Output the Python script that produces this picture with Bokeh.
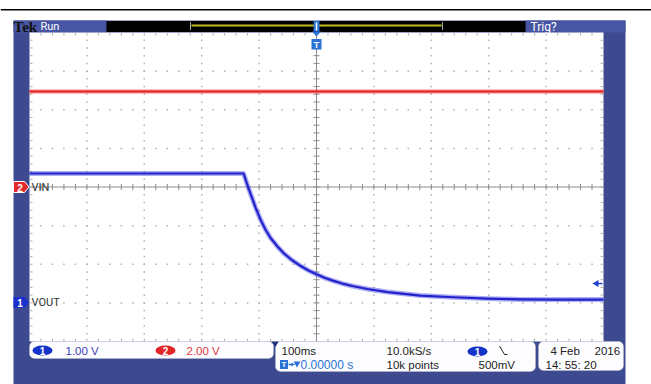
from bokeh.plotting import figure
from bokeh.models import Range1d, BoxAnnotation
from bokeh.embed import file_html
from bokeh.resources import INLINE
from bokeh.core.properties import value

# ---------------- data ----------------
TIMEBASE_MS = 100.0      # ms / div
CH1_SCALE = 1.0          # V / div  (VOUT, blue)
CH2_SCALE = 2.0          # V / div  (VIN, red)
CH1_POS = -3.0           # ground marker position, div
CH2_POS = 0.0
TRIG_LEVEL_V = 0.5       # trigger level on ch1

vout_t = [-500, -127, -121, -115, -106, -97.6, -89, -80, -68, -57.5, -43, -28, -14, 0, 14, 29.6, 45,
          64.5, 89, 124, 181, 239, 298, 355, 413, 500]
vout_v = [3.35, 3.35, 3.08, 2.83, 2.46, 2.16, 1.90, 1.68, 1.46, 1.29, 1.11, 0.96, 0.84, 0.74, 0.65,
          0.57, 0.50, 0.43, 0.36, 0.28, 0.19, 0.145, 0.11, 0.09, 0.085, 0.085]
vin_t = [-500, 500]
vin_v = [4.94, 4.94]

ch_labels = ["1.00 V", "2.00 V"]
info_rows = ["100ms", "0.00000 s", "10.0kS/s", "10k points", "500mV"]
date_rows = ["4 Feb", "2016", "14: 55: 20"]

# ---------------- layout helpers (picture pixel -> division) ----------------
W, H = 651, 384
SX, SY = 57.4, 38.625
CX, CY = 316.0, 186.5
def X(px): return (px - CX) / SX
def Y(py): return (CY - py) / SY

FONT = value("Liberation Sans")
NARROW = value("Roboto")

p = figure(width=W, height=H, x_range=Range1d(X(0), X(W)), y_range=Range1d(Y(H), Y(0)),
           output_backend="svg", toolbar_location=None, min_border=0,
           x_axis_location=None, y_axis_location=None)
p.outline_line_color = None
p.background_fill_color = "white"
p.border_fill_color = "white"
p.xgrid.visible = False
p.ygrid.visible = False

# top black rule
p.segment(x0=[X(0)], y0=[Y(9.3)], x1=[X(W)], y1=[Y(9.3)], line_color="black", line_width=1.5)

# instrument panel
p.quad(left=[X(13)], right=[X(625)], top=[Y(20)], bottom=[Y(H + 5)], fill_color="#3d4a90", line_color=None)
p.quad(left=[X(13), X(525)], right=[X(106), X(625)], top=[Y(20)] * 2, bottom=[Y(32)] * 2,
       fill_color="#4755a2", line_color=None)
p.quad(left=[X(106)], right=[X(525)], top=[Y(20.5)], bottom=[Y(31.5)], fill_color="black", line_color=None)
p.segment(x0=[X(191)], y0=[Y(25)], x1=[X(441)], y1=[Y(25)], line_color="#c4bc22", line_width=2)
p.segment(x0=[X(190), X(442)], y0=[Y(21.5)] * 2, x1=[X(190), X(442)], y1=[Y(29.5)] * 2,
          line_color="#a8a8a8", line_width=1)

# screen
p.quad(left=[-5], right=[5], top=[4], bottom=[-4], fill_color="white", line_color=None)

# graticule dots
dx, dy = [], []
for gy in [-3, -2, -1, 1, 2, 3]:
    for k in range(-24, 25):
        dx.append(k / 5); dy.append(gy)
for gx in [-4, -3, -2, -1, 1, 2, 3, 4]:
    for k in range(-19, 20):
        dx.append(gx); dy.append(k / 5)
p.scatter(dx, dy, marker="square", size=1.5, fill_color="#b0b0b0", line_color=None)

# edge and centre ticks
tx0, ty0, tx1, ty1 = [], [], [], []
for k in range(-24, 25):
    x = k / 5
    tx0 += [x, x]; tx1 += [x, x]
    ty0 += [4, -4]; ty1 += [4 - 3 / SY, -4 + 3 / SY]
for k in range(-19, 20):
    y = k / 5
    ty0 += [y, y]; ty1 += [y, y]
    tx0 += [-5, 5]; tx1 += [-5 + 3 / SX, 5 - 3 / SX]
p.segment(tx0, ty0, tx1, ty1, line_color="#b0b0b0", line_width=1)
cx0, cy0, cx1, cy1 = [], [], [], []
for k in range(-24, 25):
    cx0.append(k / 5); cx1.append(k / 5); cy0.append(-3 / SY); cy1.append(3 / SY)
for k in range(-19, 20):
    cy0.append(k / 5); cy1.append(k / 5); cx0.append(-3 / SX); cx1.append(3 / SX)
p.segment(cx0, cy0, cx1, cy1, line_color="#8c8c8c", line_width=1)
p.segment(x0=[-5, 0], y0=[0, -4], x1=[5, 0], y1=[0, 4], line_color="#8c8c8c", line_width=1)

# traces
vin_x = [t / TIMEBASE_MS for t in vin_t]
vin_y = [v / CH2_SCALE + CH2_POS for v in vin_v]
vout_x = [t / TIMEBASE_MS for t in vout_t]
vout_y = [v / CH1_SCALE + CH1_POS for v in vout_v]
p.line(vin_x, vin_y, line_color="#f03a3a", line_width=4.5, line_alpha=0.45)
p.line(vin_x, vin_y, line_color="#e41e1e", line_width=2)
p.line(vout_x, vout_y, line_color="#4a4ae2", line_width=5, line_alpha=0.45, line_join="round")
p.line(vout_x, vout_y, line_color="#2222cc", line_width=2.2, line_join="round")

# trigger level arrow (right edge)
ty = TRIG_LEVEL_V / CH1_SCALE + CH1_POS
p.scatter([X(596)], [ty], marker="triangle", angle=1.5708, size=7, fill_color="#2040d0", line_color=None)
p.segment(x0=[X(597)], y0=[ty], x1=[X(602)], y1=[ty], line_color="#2040d0", line_width=1.5)

# trigger position marker (top)
TB = "#2a72d8"
p.quad(left=[X(313)], right=[X(319)], top=[Y(20.5)], bottom=[Y(31)], fill_color=TB, line_color=None)
p.segment(x0=[X(316)], y0=[Y(22)], x1=[X(316)], y1=[Y(30)], line_color="white", line_width=1.5)
p.patch([X(311.5), X(320.5), X(316)], [Y(31), Y(31), Y(36)], fill_color=TB, line_color=None)
p.quad(left=[X(311)], right=[X(321)], top=[Y(38.5)], bottom=[Y(49)], fill_color=TB, line_color=None)
p.text([X(316)], [Y(44)], text=["T"], text_color="white", text_font=FONT, text_font_style="bold",
       text_font_size="9px", text_align="center", text_baseline="middle")

# header texts
p.text([X(13)], [Y(26.5)], text=["Tek"], text_color="#111111", text_font=value("Liberation Serif"),
       text_font_style="bold", text_font_size="15px", text_baseline="middle")
p.text([X(40)], [Y(26)], text=["Run"], text_color="white", text_font=NARROW,
       text_font_size="11px", text_baseline="middle")
p.text([X(530)], [Y(26)], text=["Trig?"], text_color="white", text_font=NARROW,
       text_font_size="12px", text_baseline="middle")

# channel ground markers
p.patch([X(13), X(24), X(28.5), X(24), X(13)], [Y(181), Y(181), Y(186.5), Y(192), Y(192)],
        fill_color="#e22a2a", line_color="white", line_width=1)
p.text([X(19.5)], [Y(187)], text=["2"], text_color="white", text_font=FONT, text_font_style="bold",
       text_font_size="10px", text_align="center", text_baseline="middle")
p.patch([X(13), X(24), X(28.5), X(24), X(13)], [Y(296.5), Y(296.5), Y(302), Y(307.5), Y(307.5)],
        fill_color="#1a2fd0", line_color=None)
p.text([X(19.5)], [Y(302.5)], text=["1"], text_color="white", text_font=FONT, text_font_style="bold",
       text_font_size="10px", text_align="center", text_baseline="middle")
p.text([X(31), X(31)], [Y(186.5), Y(302)], text=["VIN", "VOUT"], text_color="#333333", text_font=NARROW,
       text_font_size="11px", text_baseline="middle")

# info boxes
for l, r, t, b in [(29, 273, 341, 358), (275, 535, 341, 371), (538, 623, 341, 370)]:
    p.add_layout(BoxAnnotation(left=X(l), right=X(r), top=Y(t), bottom=Y(b), fill_color="#fdfdff",
                               fill_alpha=1, line_color="#c8c8d0", line_width=1, border_radius=5))
p.scatter([X(275), X(537)], [Y(343)], marker="inverted_triangle", size=6, fill_color="#22307a",
          line_color=None, level="overlay")

p.ellipse([X(42), X(165), X(477)], [Y(350), Y(350), Y(351)], width=20, height=10,
          width_units="screen", height_units="screen",
          fill_color=["#1433c8", "#e22626", "#1433c8"], line_color=None, level="overlay")
p.text([X(42), X(165), X(477)], [Y(350.5), Y(350.5), Y(351.5)], text=["1", "2", "1"], text_color="white",
       text_font=FONT, text_font_style="bold", text_font_size="10px", text_align="center",
       text_baseline="middle", level="overlay")
p.text([X(65), X(186)], [Y(350)] * 2, text=ch_labels, text_color=["#3c3cb4", "#e03a3a"],
       text_font=FONT, text_font_size="11.5px", text_baseline="middle", level="overlay")

p.text([X(281), X(386), X(386), X(478)], [Y(350), Y(350), Y(364), Y(364)],
       text=[info_rows[0], info_rows[2], info_rows[3], info_rows[4]], text_color="#222222",
       text_font=FONT, text_font_size="11.5px", text_baseline="middle", level="overlay")
p.segment(x0=[X(499)], y0=[Y(345.5)], x1=[X(504)], y1=[Y(354)], line_color="#222222", line_width=1,
          level="overlay")
p.segment(x0=[X(504)], y0=[Y(354)], x1=[X(507)], y1=[Y(354)], line_color="#222222", line_width=1,
          level="overlay")
p.quad(left=[X(279.5)], right=[X(287.5)], top=[Y(359.5)], bottom=[Y(368.5)], fill_color=TB,
       line_color=None, level="overlay")
p.text([X(283.5)], [Y(364)], text=["T"], text_color="white", text_font=FONT, text_font_style="bold",
       text_font_size="8px", text_align="center", text_baseline="middle", level="overlay")
p.segment(x0=[X(288)], y0=[Y(364)], x1=[X(292)], y1=[Y(364)], line_color=TB, line_width=1.5, level="overlay")
p.scatter([X(292)], [Y(364)], marker="triangle", angle=-1.5708, size=4, fill_color=TB, line_color=None,
          level="overlay")
p.scatter([X(296.5)], [Y(363)], marker="inverted_triangle", size=7, fill_color=TB, line_color=None,
          level="overlay")
p.text([X(300)], [Y(364)], text=[info_rows[1]], text_color=TB, text_font=FONT, text_font_size="12px",
       text_baseline="middle", level="overlay")

p.text([X(550), X(594), X(545)], [Y(350), Y(350), Y(364)], text=date_rows, text_color="#222222",
       text_font=FONT, text_font_size="11.5px", text_baseline="middle", level="overlay")

open("out.html", "w").write(file_html(p, INLINE))
